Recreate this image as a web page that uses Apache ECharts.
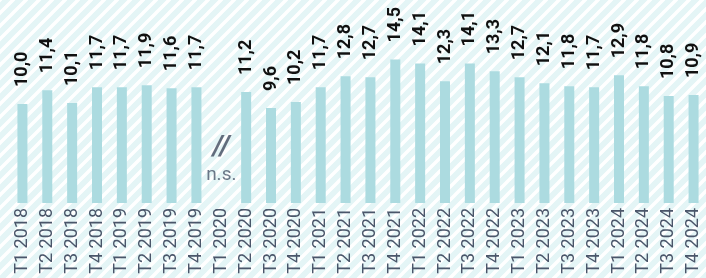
<!DOCTYPE html>
<html><head><meta charset="utf-8">
<script src="https://cdn.jsdelivr.net/npm/echarts@6/dist/echarts.min.js"></script>
<style>html,body{margin:0;padding:0;background:#fff}#c{width:706px;height:278px}</style>
</head><body><div id="c"></div>
<script>
const categories = ['T1 2018','T2 2018','T3 2018','T4 2018','T1 2019','T2 2019','T3 2019','T4 2019','T1 2020','T2 2020','T3 2020','T4 2020','T1 2021','T2 2021','T3 2021','T4 2021','T1 2022','T2 2022','T3 2022','T4 2022','T1 2023','T2 2023','T3 2023','T4 2023','T1 2024','T2 2024','T3 2024','T4 2024'];
const values = [10.0,11.4,10.1,11.7,11.7,11.9,11.6,11.7,null,11.2,9.6,10.2,11.7,12.8,12.7,14.5,14.1,12.3,14.1,13.3,12.7,12.1,11.8,11.7,12.9,11.8,10.8,10.9];
const noteCategory = 'T1 2020';
const noteLevel = 4.4;

const tile = document.createElement('canvas');
tile.width = 13; tile.height = 13;
const g = tile.getContext('2d');
g.fillStyle = '#e4f5f6'; g.fillRect(0,0,13,13);
g.strokeStyle = '#ffffff'; g.lineWidth = 3.4;
g.beginPath();
g.moveTo(-2,15); g.lineTo(15,-2);
g.moveTo(-15,15); g.lineTo(2,-2);
g.moveTo(11,15); g.lineTo(28,-2);
g.stroke();

const chart = echarts.init(document.getElementById('c'), null, {renderer:'canvas'});
chart.setOption({
  backgroundColor: {image: tile, repeat: 'repeat'},
  animation: false,
  grid: {left: 10, right: 0, top: 5, bottom: 75},
  xAxis: {
    type: 'category', data: categories,
    axisLine: {show: false}, axisTick: {show: false},
    axisLabel: {rotate: 90, interval: 0, margin: 5, color: '#4a566a', fontFamily: 'Roboto', fontSize: 18}
  },
  yAxis: {type: 'value', min: 0, max: 20, show: false, splitLine: {show: false}},
  series: [{
    type: 'bar', data: values, barWidth: 10,
    itemStyle: {color: '#acdbe0'},
    label: {
      show: true, position: 'top', rotate: 90, align: 'left', verticalAlign: 'middle', distance: 17,
      color: '#111', fontWeight: 'bold', fontFamily: 'Roboto', fontSize: 18,
      formatter: p => p.value == null ? '' : p.value.toFixed(1).replace('.', ',')
    }
  },{
    type: 'scatter', symbolSize: 0, data: [[noteCategory, noteLevel]],
    label: {
      show: true, position: 'inside',
      formatter: '{a|//}\n{b|n.s.}',
      rich: {
        a: {fontFamily: 'Roboto', fontWeight: 'bold', fontStyle: 'italic', fontSize: 28, color: '#3e4a5e', lineHeight: 32, align: 'center'},
        b: {fontFamily: 'Roboto', fontSize: 19, color: '#4a566a', lineHeight: 22, align: 'center'}
      }
    }
  }]
});
</script></body></html>
